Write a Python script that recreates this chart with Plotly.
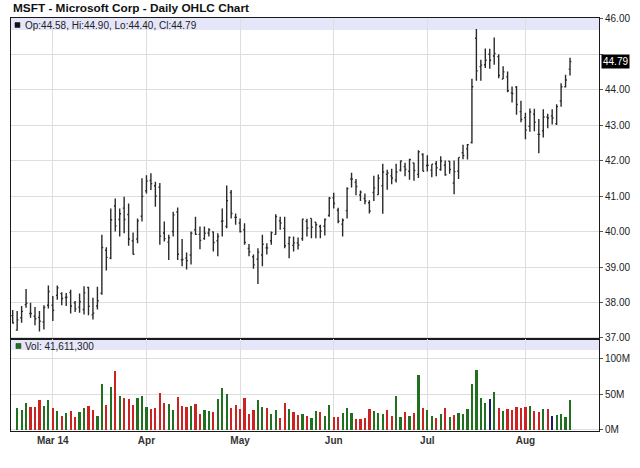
import pandas as pd
import plotly.graph_objects as go

# ---- data -------------------------------------------------------------
holidays = ["2014-04-18", "2014-05-26", "2014-07-04"]
dates = [d.strftime("%Y-%m-%d") for d in pd.bdate_range("2014-02-18", "2014-08-15")
         if d.strftime("%Y-%m-%d") not in holidays]

opens = [37.63, 37.22, 37.57, 37.94, 37.69, 37.61, 37.58, 37.45, 37.92,
         37.92, 38.20, 38.25, 38.14, 38.28, 37.99, 37.87, 37.80, 38.42, 37.65,
         37.90, 38.26, 39.47, 39.25, 40.72, 40.34, 40.66, 40.48, 39.74, 39.79,
         40.43, 41.15, 41.44, 41.29, 41.25, 39.96, 39.70, 40.00, 40.55, 39.20,
         39.25, 39.34, 40.05, 39.92, 39.80, 39.96, 39.99, 39.74, 40.29, 40.14,
         41.10, 40.40, 40.24, 40.05, 39.52, 39.29, 39.22, 39.34, 39.54, 39.74,
         39.92, 40.30, 40.09, 39.66, 39.61, 39.68, 39.80, 40.29, 40.37, 40.26,
         40.14, 40.15, 40.45, 40.95, 40.60, 40.21, 40.59, 41.48, 41.39, 41.03,
         40.93, 40.81, 41.10, 41.04, 41.29, 41.61, 41.57, 41.45, 41.73, 41.83,
         41.70, 41.93, 41.61, 42.17, 41.86, 41.73, 41.91, 41.75, 41.87, 41.98,
         41.37, 41.70, 42.22, 42.33, 42.51, 45.45, 44.65, 44.70, 45.00, 44.95,
         44.93, 44.30, 44.36, 43.91, 44.07, 43.38, 43.21, 42.97, 43.31, 42.74,
         42.84, 43.23, 43.26, 43.04, 43.68, 44.08, 44.58]
highs = [37.79, 37.76, 37.90, 38.38, 37.99, 37.87, 37.76, 37.92, 38.48,
         38.18, 38.48, 38.29, 38.27, 38.36, 38.04, 38.25, 38.46, 38.44, 38.13,
         38.44, 39.91, 39.56, 40.65, 40.93, 40.65, 40.98, 40.79, 39.97, 40.37,
         41.50, 41.59, 41.64, 41.40, 41.37, 40.28, 39.91, 40.56, 40.68, 39.79,
         39.41, 40.00, 40.42, 40.14, 40.14, 40.09, 40.00, 39.95, 40.65, 41.30,
         41.17, 40.51, 40.37, 40.23, 39.65, 39.35, 39.53, 39.91, 39.67, 40.00,
         40.49, 40.42, 40.42, 39.86, 39.86, 39.83, 40.36, 40.36, 40.37, 40.26,
         40.19, 40.37, 40.97, 41.09, 40.67, 40.37, 41.25, 41.66, 41.48, 41.16,
         41.07, 40.88, 41.57, 41.61, 41.91, 41.74, 41.77, 41.91, 42.00, 41.94,
         42.05, 41.94, 42.29, 42.21, 42.15, 41.90, 41.99, 42.12, 42.00, 41.99,
         42.00, 42.09, 42.45, 42.47, 44.31, 45.71, 44.84, 45.16, 45.15, 45.47,
         45.00, 44.66, 44.51, 44.09, 44.10, 43.69, 43.35, 43.47, 43.46, 43.17,
         43.45, 43.32, 43.45, 43.59, 44.18, 44.42, 44.90]
lows = [37.41, 37.20, 37.43, 37.85, 37.57, 37.36, 37.18, 37.24, 37.83,
        37.48, 38.08, 37.92, 37.90, 37.69, 37.73, 37.71, 37.66, 37.64, 37.52,
        37.80, 38.22, 38.90, 39.22, 40.00, 39.86, 39.95, 39.60, 39.35, 39.67,
        40.28, 41.07, 41.17, 40.70, 39.63, 39.72, 39.20, 39.86, 39.20, 39.02,
        38.93, 39.07, 39.90, 39.50, 39.77, 39.86, 39.44, 39.30, 39.86, 40.09,
        40.37, 40.19, 39.97, 39.63, 39.30, 38.95, 38.52, 39.02, 39.35, 39.63,
        39.91, 40.05, 39.53, 39.25, 39.44, 39.49, 39.74, 39.86, 39.81, 39.81,
        39.81, 39.89, 40.42, 40.65, 40.23, 39.86, 40.37, 41.24, 41.02, 40.86,
        40.77, 40.51, 40.86, 41.04, 40.50, 41.18, 41.33, 41.38, 41.69, 41.56,
        41.46, 41.43, 41.51, 41.70, 41.69, 41.53, 41.56, 41.71, 41.57, 41.63,
        41.05, 41.48, 42.04, 42.03, 42.48, 44.25, 44.25, 44.61, 44.59, 44.70,
        44.32, 44.30, 43.93, 43.64, 43.29, 43.08, 42.60, 42.81, 42.83, 42.21,
        42.65, 42.91, 43.02, 43.00, 43.52, 44.06, 44.40]
closes = [37.42, 37.51, 37.75, 37.98, 37.69, 37.54, 37.47, 37.86, 38.31,
          37.78, 38.41, 38.11, 38.15, 37.90, 37.82, 38.02, 38.27, 37.89, 37.70,
          38.05, 39.55, 39.27, 40.33, 40.16, 40.50, 40.34, 39.79, 39.36, 40.30,
          40.99, 41.42, 41.35, 41.00, 39.87, 39.80, 39.82, 40.47, 39.36, 39.21,
          39.18, 39.95, 39.92, 39.75, 39.95, 40.05, 39.69, 39.86, 40.30, 40.87,
          40.51, 40.40, 40.00, 39.69, 39.43, 39.06, 39.42, 39.64, 39.54, 39.97,
          40.42, 40.24, 39.60, 39.83, 39.68, 39.62, 40.35, 40.10, 40.12, 40.19,
          40.01, 40.34, 40.94, 40.79, 40.29, 40.32, 41.21, 41.48, 41.27, 41.11,
          40.86, 40.58, 41.23, 41.50, 41.68, 41.65, 41.51, 41.68, 41.99, 41.75,
          42.03, 41.72, 42.25, 41.70, 41.87, 41.90, 41.80, 41.99, 41.60, 41.75,
          41.69, 42.09, 42.14, 42.45, 44.08, 44.53, 44.69, 44.83, 44.83, 45.02,
          44.40, 44.50, 43.97, 43.89, 43.58, 43.16, 42.86, 43.37, 43.08, 42.74,
          43.23, 43.20, 43.20, 43.52, 44.08, 44.27, 44.79]
volumes_m = [None, 30.2, 27.9, 38.1, 32.6, 31.6, 41.9, 33.5, 41.4,
             30.2, 26.5, 20.0, 23.7, 26.5, 18.1, 25.1, 30.2, 33.0, 27.9,
             20.0, 64.2, 35.3, 59.5, 82.3, 47.0, 44.2, 43.3, 35.3, 44.2,
             47.9, 32.6, 29.3, 30.2, 51.6, 38.1, 36.3, 27.4, 46.5, 33.5,
             32.6, 34.0, 36.3, 22.8, 27.9, 26.0, 25.1, 42.8, 58.1, 50.2,
             30.2, 34.9, 29.3, 44.2, 22.3, 27.9, 41.9, 32.6, 30.2, 22.3,
             27.9, 17.2, 38.1, 29.8, 25.6, 20.9, 22.3, 19.5, 17.2, 26.5,
             25.6, 19.5, 34.9, 18.6, 17.7, 23.3, 31.2, 23.3, 14.9, 14.9,
             17.2, 29.8, 26.5, 24.2, 22.3, 27.9, 19.5, 47.4, 18.6, 25.6,
             19.5, 23.3, 75.8, 31.2, 27.4, 19.5, 16.3, 21.9, 31.2, 18.1,
             20.9, 23.3, 22.3, 28.8, 64.2, 83.7, 44.2, 38.1, 42.8, 53.0,
             31.2, 26.5, 29.8, 27.9, 32.6, 31.2, 31.6, 33.5, 26.0, 25.1,
             29.8, 28.8, 19.5, 20.9, 22.3, 18.6, 41.6113]

month_ticks = ["2014-03-03", "2014-04-01", "2014-05-01", "2014-06-02", "2014-07-01", "2014-08-01"]
month_labels = ["Mar 14", "Apr", "May", "Jun", "Jul", "Aug"]
price_ticks = [37, 38, 39, 40, 41, 42, 43, 44, 45, 46]
volume_ticks = [0, 50, 100]
volume_labels = ["0M", "50M", "100M"]

# ---- styling ----------------------------------------------------------
FONT = "Liberation Sans, Arial, sans-serif"
UP, DOWN, FLAT = "#1f701f", "#cc2222", "#1c1c6a"
GRID = "#dedede"
STRIP = "#e6e6fa"

vol_colors = [FLAT]
for i in range(1, len(closes)):
    if closes[i] > closes[i - 1]:
        vol_colors.append(UP)
    elif closes[i] < closes[i - 1]:
        vol_colors.append(DOWN)
    else:
        vol_colors.append(FLAT)

fig = go.Figure()
fig.add_trace(go.Ohlc(
    x=dates, open=opens, high=highs, low=lows, close=closes,
    increasing=dict(line=dict(color="#2a2a2a", width=1.4)),
    decreasing=dict(line=dict(color="#2a2a2a", width=1.4)),
    tickwidth=0.3, xaxis="x", yaxis="y", showlegend=False, hoverinfo="skip"))
fig.add_trace(go.Bar(
    x=dates, y=volumes_m, marker=dict(color=vol_colors, line=dict(width=0)),
    width=0.5, xaxis="x2", yaxis="y2", showlegend=False, hoverinfo="skip"))

split = 92 / 413
xcommon = dict(type="category", range=[-0.38, 131.5], tickvals=month_ticks,
               showgrid=True, gridcolor=GRID, gridwidth=1,
               showline=True, linecolor="#1a1a1a", linewidth=1, mirror=True,
               ticks="", fixedrange=True)

price_text = [("" if v == 45 else f"{v:.2f}") for v in price_ticks]

fig.update_layout(
    width=640, height=468,
    margin=dict(l=10, r=38, t=18, b=37),
    paper_bgcolor="white", plot_bgcolor="white",
    font=dict(family=FONT, size=10, color="#222222"),
    showlegend=False, bargap=0,
    xaxis=dict(xcommon, anchor="y", domain=[0, 1], showticklabels=False,
               rangeslider=dict(visible=False)),
    xaxis2=dict(xcommon, anchor="y2", domain=[0, 1], matches="x",
                ticktext=[f"<b>{t}</b>" for t in month_labels],
                tickfont=dict(size=10, color="#333333")),
    yaxis=dict(domain=[split, 1], side="right", range=[36.97, 46.02],
               tickvals=price_ticks, ticktext=price_text,
               showgrid=True, gridcolor=GRID, zeroline=False,
               showline=True, linecolor="#1a1a1a", linewidth=1, mirror=True,
               ticks="outside", ticklen=3, tickcolor="#555555",
               tickfont=dict(size=10, color="#222222"), fixedrange=True),
    yaxis2=dict(domain=[0, split], side="right", range=[-1.4, 126.4],
                tickvals=volume_ticks, ticktext=volume_labels,
                showgrid=True, gridcolor=GRID, zeroline=False,
                showline=True, linecolor="#1a1a1a", linewidth=1, mirror=True,
                ticks="outside", ticklen=3, tickcolor="#555555",
                tickfont=dict(size=10, color="#222222"), fixedrange=True),
)

# legend strips
fig.add_shape(type="rect", xref="x domain", yref="y domain", x0=0, x1=1,
              y0=1 - 12 / 321, y1=1, fillcolor=STRIP, line=dict(width=0), layer="below")
fig.add_shape(type="rect", xref="x2 domain", yref="y2 domain", x0=0, x1=1,
              y0=1 - 11 / 92, y1=1, fillcolor=STRIP, line=dict(width=0), layer="below")
# legend squares
fig.add_shape(type="rect", xref="x domain", yref="y domain",
              x0=4 / 592, x1=9 / 592, y0=(339 - 27.5) / 321, y1=(339 - 22.5) / 321,
              fillcolor="#111111", line=dict(width=0.5, color="#111111"))
fig.add_shape(type="rect", xref="x2 domain", yref="y2 domain",
              x0=5 / 592, x1=10 / 592, y0=(431 - 348.5) / 92, y1=(431 - 343.5) / 92,
              fillcolor=UP, line=dict(width=0.5, color="#0d3d0d"))

last_vol = int(round(volumes_m[-1] * 1e6))
fig.add_annotation(xref="x domain", yref="y domain", x=12 / 592, y=(339 - 25) / 321,
                   xanchor="left", yanchor="middle", showarrow=False,
                   text=f"Op:{opens[-1]:.2f}, Hi:{highs[-1]:.2f}, Lo:{lows[-1]:.2f}, Cl:{closes[-1]:.2f}",
                   font=dict(size=10, color="#222222"))
fig.add_annotation(xref="x2 domain", yref="y2 domain", x=12 / 592, y=(431 - 346) / 92,
                   xanchor="left", yanchor="middle", showarrow=False,
                   text=f"Vol: {last_vol:,}", font=dict(size=10, color="#222222"))
# title
fig.add_annotation(xref="paper", yref="paper", x=0, y=1 + 10 / 413,
                   xanchor="left", yanchor="middle", showarrow=False,
                   text="<b>MSFT - Microsoft Corp - Daily OHLC Chart</b>",
                   font=dict(size=11.8, color="#111111"))
# last price box
fig.add_annotation(xref="paper", yref="y", x=1, y=closes[-1], xanchor="left",
                   yanchor="middle", xshift=2, showarrow=False,
                   text=f"{closes[-1]:.2f}", bgcolor="#000000", borderpad=1,
                   font=dict(size=10, color="#ffffff"))

fig.write_html("out.html", config={"displayModeBar": False},
               post_script="document.body.style.margin='0px';")
